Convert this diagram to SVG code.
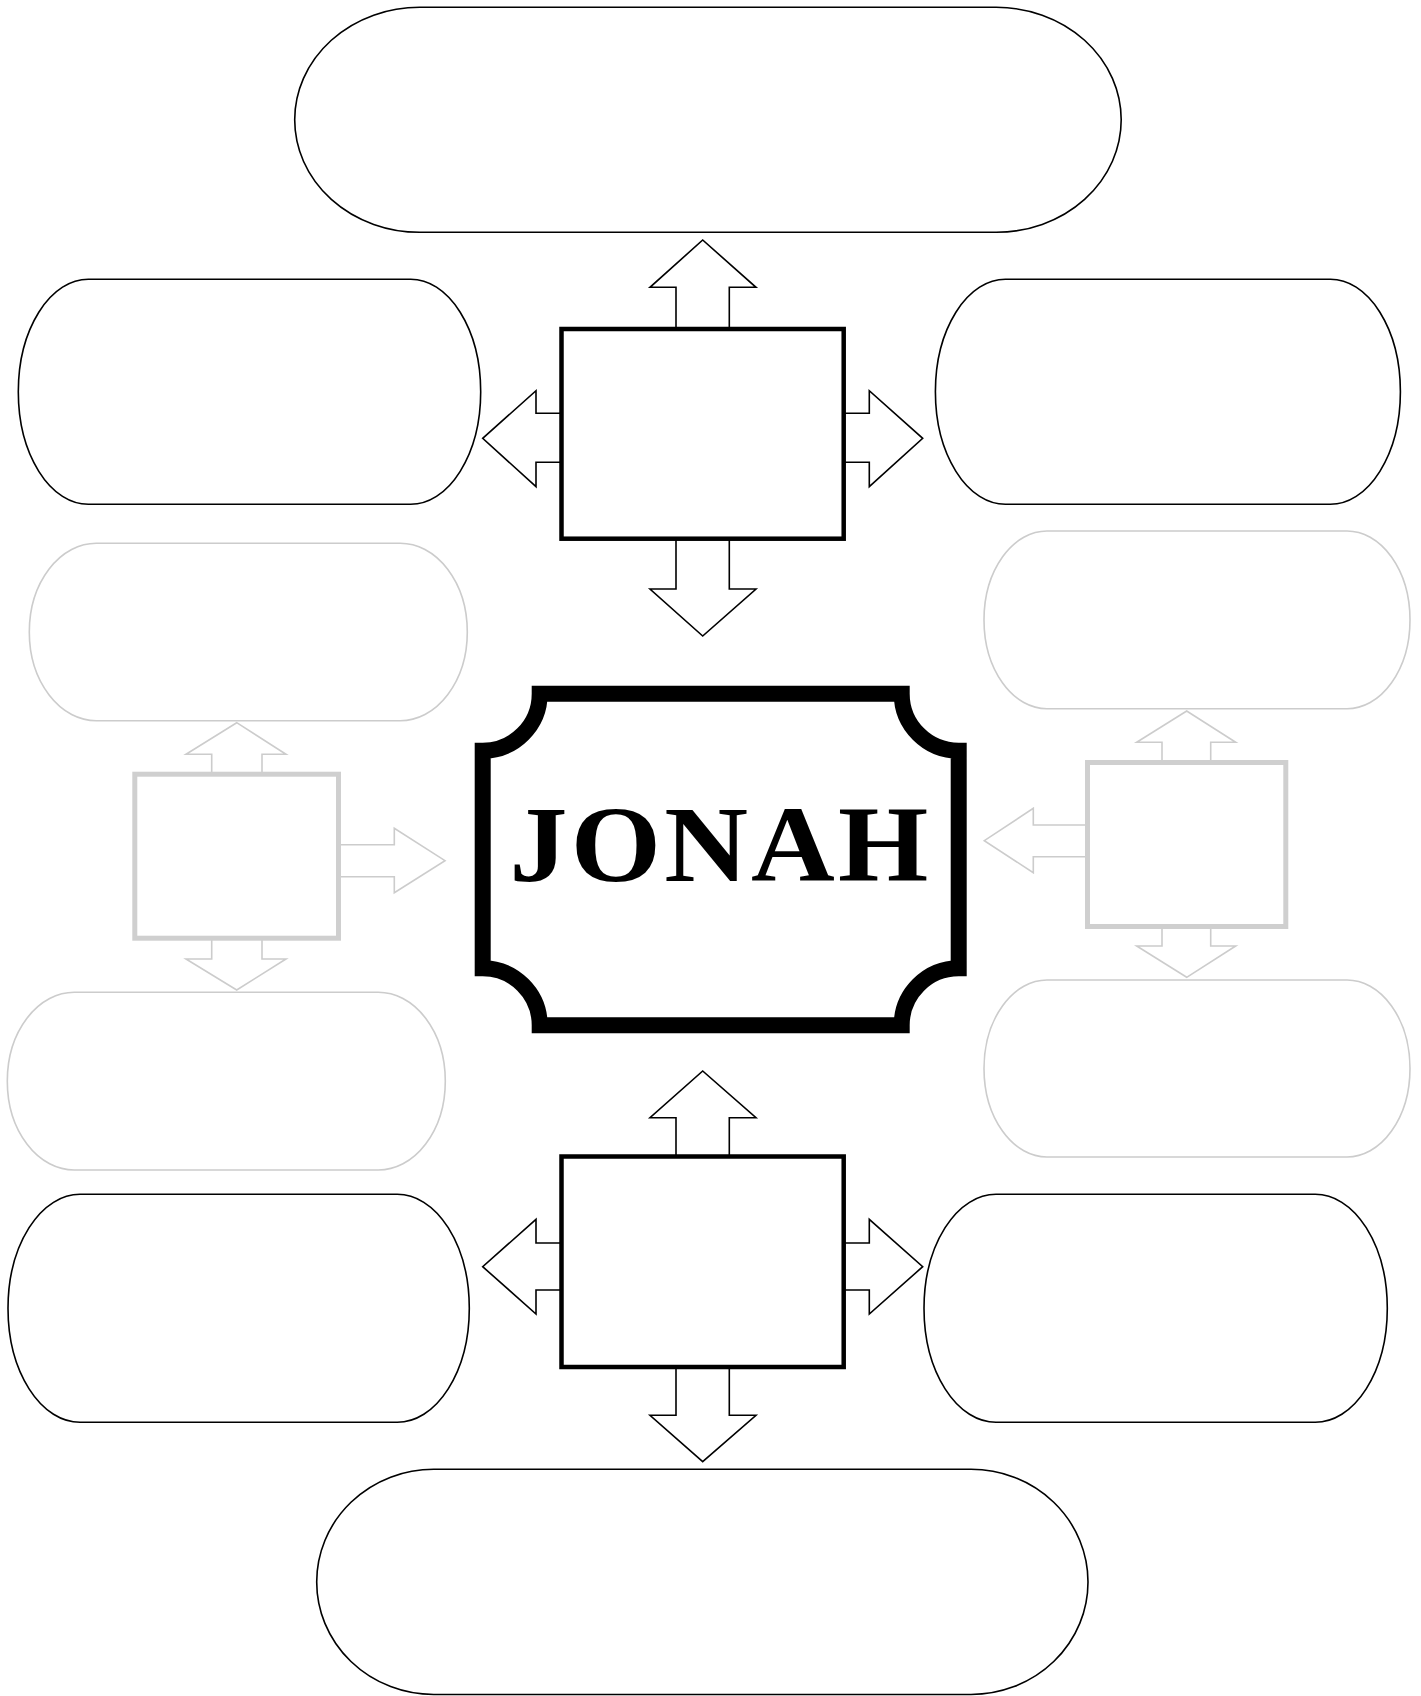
<svg xmlns="http://www.w3.org/2000/svg" width="1421" height="1696" viewBox="0 0 1421 1696">
<style>
.oval{fill:#fff;stroke:#000;stroke-width:1.6}
.oval-g{fill:#fff;stroke:#cccccc;stroke-width:1.6}
.arr{fill:#fff;stroke:#000;stroke-width:1.6;stroke-linejoin:miter}
.arr-g{fill:#fff;stroke:#cccccc;stroke-width:1.6;stroke-linejoin:miter}
.box{fill:#fff;stroke:#000;stroke-width:4.5}
.box-g{fill:#fff;stroke:#cfcfcf;stroke-width:5}
.frame{fill:#fff;stroke:#000;stroke-width:16}
.title{font-family:"Liberation Serif","DejaVu Serif",serif;font-weight:bold;font-size:108px;fill:#000}
</style>
<rect width="1421" height="1696" fill="#fff"/>
<g id="oval-top"><rect class="oval" x="294.7" y="7.3" width="826.5" height="225" rx="125" ry="112.5"/></g>
<g id="oval-top-left"><rect class="oval" x="18.3" y="279.3" width="462.4" height="225" rx="70" ry="112.5"/></g>
<g id="oval-top-right"><rect class="oval" x="935.4" y="279.3" width="465" height="225" rx="70" ry="112.5"/></g>
<g id="oval-gray-left-top"><rect class="oval-g" x="29.3" y="543.3" width="438" height="177.4" rx="67" ry="88.7"/></g>
<g id="oval-gray-right-top"><rect class="oval-g" x="984" y="531" width="426" height="177.7" rx="63" ry="88.8"/></g>
<g id="oval-gray-left-bottom"><rect class="oval-g" x="7.3" y="992.3" width="438" height="177.7" rx="67" ry="88.8"/></g>
<g id="oval-gray-right-bottom"><rect class="oval-g" x="984" y="980" width="426" height="177" rx="63" ry="88.5"/></g>
<g id="oval-bottom-left"><rect class="oval" x="8" y="1194.3" width="461.3" height="228" rx="72" ry="114"/></g>
<g id="oval-bottom-right"><rect class="oval" x="924" y="1194.3" width="463.3" height="228" rx="72" ry="114"/></g>
<g id="oval-bottom"><rect class="oval" x="316.7" y="1469.3" width="771.3" height="225.2" rx="117" ry="112.6"/></g>
<g id="connectors">
<polygon class="arr" points="676,331 676,287.3 650,287.3 702.7,240 756,287.3 729.3,287.3 729.3,331"/>
<polygon class="arr" points="563,413.3 536,413.3 536,390.7 482.7,438.3 536,486.7 536,462.3 563,462.3"/>
<polygon class="arr" points="841,413.3 869.3,413.3 869.3,390.7 922.7,438.3 869.3,486.7 869.3,462.3 841,462.3"/>
<polygon class="arr" points="676,536 676,589 650,589 702.7,636 756,589 729.3,589 729.3,536"/>
<polygon class="arr" points="676,1159 676,1117.7 650,1117.7 702.7,1071 756,1117.7 729.3,1117.7 729.3,1159"/>
<polygon class="arr" points="563,1243 536,1243 536,1219.3 482.7,1266.7 536,1314 536,1290 563,1290"/>
<polygon class="arr" points="841,1243 869.3,1243 869.3,1219.3 922.7,1266.7 869.3,1314 869.3,1290 841,1290"/>
<polygon class="arr" points="676,1365 676,1415.3 650,1415.3 702.7,1461.7 756,1415.3 729.3,1415.3 729.3,1365"/>
<polygon class="arr-g" points="211.7,776 211.7,754.3 186,754.3 236.7,722.7 286,754.3 262,754.3 262,776"/>
<polygon class="arr-g" points="211.7,937 211.7,959 186,959 236.7,990 286,959 262,959 262,937"/>
<polygon class="arr-g" points="337,844.7 394.3,844.7 394.3,828.3 445,860.7 394.3,892.7 394.3,876.7 337,876.7"/>
<polygon class="arr-g" points="1162,765 1162,742.3 1136.7,742.3 1186.7,711 1235.7,742.3 1210.7,742.3 1210.7,765"/>
<polygon class="arr-g" points="1162,924 1162,946 1136.7,946 1186.7,977.3 1235.7,946 1210.7,946 1210.7,924"/>
<polygon class="arr-g" points="1089,825 1033.3,825 1033.3,808.3 984.3,840.7 1033.3,872.7 1033.3,856.7 1089,856.7"/>
</g>
<g id="box-top"><rect class="box" x="561.5" y="329" width="282.2" height="209.7"/></g>
<g id="box-bottom"><rect class="box" x="561.5" y="1156.5" width="282.2" height="210.5"/></g>
<g id="box-gray-left"><rect class="box-g" x="134.8" y="774.2" width="203.7" height="164"/></g>
<g id="box-gray-right"><rect class="box-g" x="1087.5" y="762.5" width="198.3" height="164"/></g>
<g id="center-jonah">
<path class="frame" d="M539.7 693.7 H901.7 A57 57 0 0 0 958.7 750.7 V968.3 A57 57 0 0 0 901.7 1025.3 H539.7 A57 57 0 0 0 482.7 968.3 V750.7 A57 57 0 0 0 539.7 693.7 Z"/>
<text class="title" x="720.5" y="881" text-anchor="middle" textLength="422" lengthAdjust="spacingAndGlyphs" letter-spacing="3">JONAH</text>
</g>
</svg>
